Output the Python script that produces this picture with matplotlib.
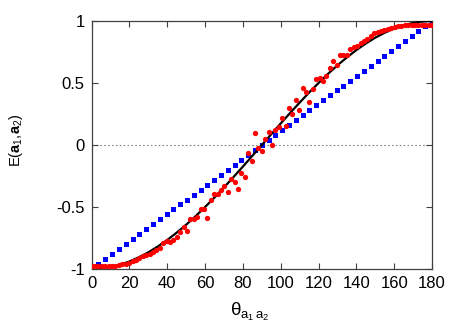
import matplotlib
matplotlib.use("Agg")
import matplotlib.pyplot as plt

plt.rcParams['font.family'] = ['Liberation Sans', 'DejaVu Sans']
plt.rcParams['mathtext.fontset'] = 'custom'
plt.rcParams['mathtext.rm'] = 'Liberation Sans'
plt.rcParams['mathtext.it'] = 'Liberation Sans'
plt.rcParams['mathtext.bf'] = 'Liberation Sans:bold'

# theory curve, read every 5 degrees
curve_theta = [0, 5, 10, 15, 20, 25, 30, 35, 40, 45, 50, 55, 60, 65, 70, 75, 80, 85, 90,
               95, 100, 105, 110, 115, 120, 125, 130, 135, 140, 145, 150, 155, 160, 165, 170, 175, 180]
curve_E = [-1.000, -0.996, -0.985, -0.966, -0.940, -0.906, -0.866, -0.819, -0.766, -0.707,
           -0.643, -0.574, -0.500, -0.423, -0.342, -0.259, -0.174, -0.087, 0.000,
           0.087, 0.174, 0.259, 0.342, 0.423, 0.500, 0.574, 0.643, 0.707, 0.766,
           0.819, 0.866, 0.906, 0.940, 0.966, 0.985, 0.996, 1.000]

# blue squares (linear model)
blue_theta = [0, 3.6, 7.2, 10.8, 14.4, 18, 21.6, 25.2, 28.8, 32.4, 36, 39.6, 43.2, 46.8, 50.4,
              54, 57.6, 61.2, 64.8, 68.4, 72, 75.6, 79.2, 82.8, 86.4, 90, 93.6, 97.2, 100.8,
              104.4, 108, 111.6, 115.2, 118.8, 122.4, 126, 129.6, 133.2, 136.8, 140.4, 144,
              147.6, 151.2, 154.8, 158.4, 162, 165.6, 169.2, 172.8, 176.4, 180]
blue_E = [-1.00, -0.96, -0.92, -0.88, -0.84, -0.80, -0.76, -0.72, -0.68, -0.64, -0.60,
          -0.56, -0.52, -0.48, -0.44, -0.40, -0.36, -0.32, -0.28, -0.24, -0.20, -0.16,
          -0.12, -0.08, -0.04, 0.00, 0.04, 0.08, 0.12, 0.16, 0.20, 0.24, 0.28, 0.32, 0.36,
          0.40, 0.44, 0.48, 0.52, 0.56, 0.60, 0.64, 0.68, 0.72, 0.76, 0.80, 0.84, 0.88,
          0.92, 0.96, 1.00]

# red dots (measured)
red_theta = [0, 1.8, 3.6, 5.4, 7.2, 9, 10.8, 12.6, 14.4, 16.2, 18, 19.8, 21.6, 23.4, 25.2,
             27, 28.8, 30.6, 32.4, 34.2, 36, 37.8, 39.6, 41.4, 43.2, 45, 46.8, 48.6, 50.4,
             52.2, 54, 55.8, 57.6, 59.4, 61.2, 63, 64.8, 66.6, 68.4, 70.2, 72, 73.8, 75.6,
             77.4, 79.2, 81, 82.8, 84.6, 86.4, 88.2, 90, 91.8, 93.6, 95.4, 97.2, 99, 100.8,
             102.6, 104.4, 106.2, 108, 109.8, 111.6, 113.4, 115.2, 117, 118.8, 120.6, 122.4,
             124.2, 126, 127.8, 129.6, 131.4, 133.2, 135, 136.8, 138.6, 140.4, 142.2, 144,
             145.8, 147.6, 149.4, 151.2, 153, 154.8, 156.6, 158.4, 160.2, 162, 163.8, 165.6,
             167.4, 169.2, 171, 172.8, 174.6, 176.4, 178.2, 180]
red_E = [-0.975, -0.975, -0.976, -0.976, -0.977, -0.976, -0.975, -0.973, -0.970, -0.964,
         -0.957, -0.949, -0.938, -0.924, -0.910, -0.898, -0.887, -0.876, -0.865, -0.850,
         -0.832, -0.793, -0.774, -0.780, -0.766, -0.739, -0.699, -0.659, -0.694, -0.600,
         -0.600, -0.583, -0.519, -0.519, -0.591, -0.444, -0.395, -0.398, -0.363, -0.331,
         -0.376, -0.274, -0.296, -0.357, -0.228, -0.255, -0.067, -0.129, 0.099, -0.027,
         -0.046, 0.046, 0.107, 0.000, 0.121, 0.148, 0.220, 0.153, 0.300, 0.252,
         0.363, 0.282, 0.457, 0.425, 0.349, 0.449, 0.535, 0.540, 0.513, 0.556,
         0.621, 0.675, 0.648, 0.728, 0.723, 0.728, 0.777, 0.788, 0.796, 0.823,
         0.841, 0.857, 0.876, 0.900, 0.911, 0.922, 0.930, 0.938, 0.946, 0.953,
         0.958, 0.962, 0.965, 0.967, 0.968, 0.968, 0.969, 0.969, 0.968, 0.968, 0.968]

fig = plt.figure(figsize=(4.63, 3.24), dpi=100)
ax = fig.add_axes([0.198, 0.170, 0.735, 0.765])

ax.axhline(0, color='#808080', linestyle=(0, (1.5, 2)), linewidth=0.8, zorder=1)
ax.plot(blue_theta, blue_E, linestyle='none', marker='s', markersize=3.6,
        color='#0000ff', markeredgewidth=0, zorder=2)
ax.plot(curve_theta, curve_E, color='black', linewidth=1.6, zorder=3)
ax.plot(red_theta, red_E, linestyle='none', marker='o', markersize=3.8,
        color='#ff0000', markeredgewidth=0, zorder=4)

ax.set_xlim(0, 180)
ax.set_ylim(-1, 1)
ax.set_xticks([0, 20, 40, 60, 80, 100, 120, 140, 160, 180])
ax.set_yticks([-1, -0.5, 0, 0.5, 1])
ax.set_yticklabels(['-1', '-0.5', '0', '0.5', '1'])
ax.tick_params(direction='in', top=True, right=True, length=4, width=0.8,
               labelsize=12, color='#404040', pad=5)
for s in ax.spines.values():
    s.set_color('#404040')
    s.set_linewidth(0.9)

ax.set_xlabel(r'$\theta_{\mathrm{a}_1\,\mathrm{a}_2}$', fontsize=13.5)
ax.xaxis.set_label_coords(0.465, -0.13)
ax.set_ylabel(r'E($\mathbf{a}_1$,$\mathbf{a}_2$)', fontsize=10.5)
ax.yaxis.set_label_coords(-0.196, 0.52)

fig.savefig('out.png', dpi=100)
